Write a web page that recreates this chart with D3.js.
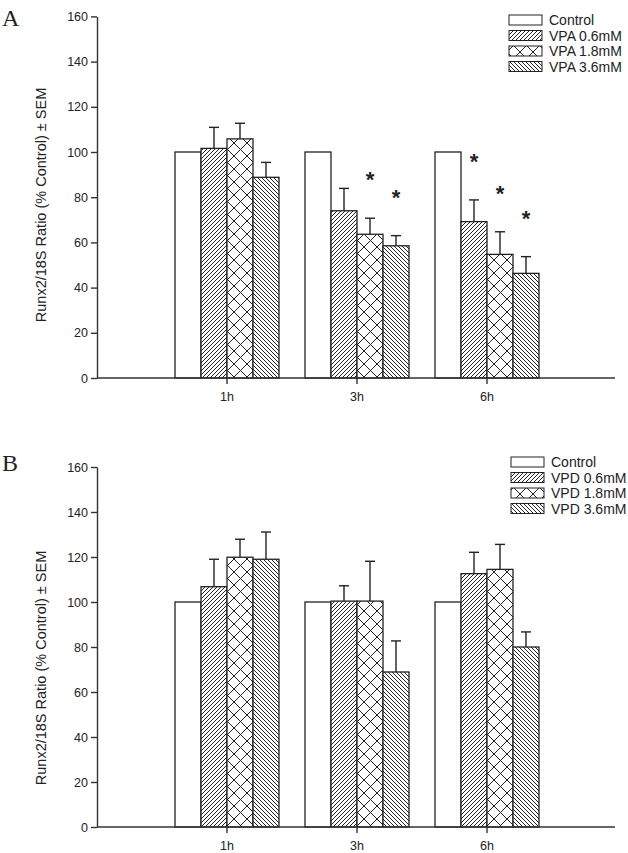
<!DOCTYPE html>
<html><head><meta charset="utf-8">
<script src="https://cdn.jsdelivr.net/npm/d3@7"></script>
<style>body{margin:0;background:#fff}svg{display:block}text{font-family:"Liberation Sans",Arial,sans-serif;fill:#222}</style>
</head><body>
<script>
const timepoints = ["1h","3h","6h"];
const yTicks = [0,20,40,60,80,100,120,140,160];
const yLabel = "Runx2/18S Ratio (% Control) \u00B1 SEM";

// Panel A (VPA)
const seriesA = ["Control","VPA 0.6mM","VPA 1.8mM","VPA 3.6mM"];
const meanA_ctrl = [100,100,100];
const meanA_06 = [101.6,74.0,69.2];
const meanA_18 = [105.8,63.6,54.7];
const meanA_36 = [88.8,58.5,46.3];
const semA_06 = [9.3,9.9,9.6];
const semA_18 = [6.9,7.1,10.0];
const semA_36 = [6.6,4.5,7.4];
const sigA_06 = [0,0,1];
const sigA_18 = [0,1,1];
const sigA_36 = [0,1,1];

// Panel B (VPD)
const seriesB = ["Control","VPD 0.6mM","VPD 1.8mM","VPD 3.6mM"];
const meanB_ctrl = [100,100,100];
const meanB_06 = [106.8,100.4,112.6];
const meanB_18 = [119.9,100.4,114.5];
const meanB_36 = [119.0,68.9,80.0];
const semB_06 = [12.2,6.8,9.5];
const semB_18 = [8.0,17.7,11.1];
const semB_36 = [12.1,13.8,6.7];

const W=628,H=853;
const svg=d3.select("body").append("svg").attr("width",W).attr("height",H);
const defs=svg.append("defs");
function pat(id,w,h,paths){
  const p=defs.append("pattern").attr("id",id).attr("patternUnits","userSpaceOnUse").attr("width",w).attr("height",h);
  p.append("rect").attr("width",w).attr("height",h).attr("fill","#fff");
  paths.forEach(d=>p.append("path").attr("d",d).attr("stroke","#222").attr("stroke-width",1).attr("fill","none"));
}
pat("fwd",4,4,["M-1,1 L1,-1","M0,4 L4,0","M3,5 L5,3"]);
pat("back",4,4,["M-1,3 L1,5","M0,0 L4,4","M3,-1 L5,1"]);
pat("cross",13,13,["M0,0 L13,13","M13,0 L0,13"]);
const fills=["#fff","url(#fwd)","url(#cross)","url(#back)"];

function panel(cfg){
  const g=svg.append("g");
  const y=d3.scaleLinear().domain([0,160]).range([cfg.y0,cfg.y160]);
  const x=d3.scaleBand().domain(timepoints).range([162,552]).padding(0);
  const x1=d3.scaleBand().domain(cfg.series).range([0,104]);
  const off=(x.bandwidth()-104)/2;
  // y axis
  const ya=g.append("g").attr("transform",`translate(97,0)`).call(d3.axisLeft(y).tickValues(yTicks).tickSize(6).tickPadding(3).tickSizeOuter(0));
  ya.selectAll("path,line").attr("stroke","#333").attr("stroke-width",1.4);
  ya.selectAll("text").style("font-size","12.5px").attr("fill","#222");
  // bars
  cfg.means.forEach((m,si)=>{
    timepoints.forEach((t,ti)=>{
      const bx=x(t)+off+x1(cfg.series[si]);
      g.append("rect").attr("x",bx).attr("y",y(m[ti])).attr("width",x1.bandwidth()).attr("height",y(0)-y(m[ti]))
        .attr("fill",fills[si]).attr("stroke","#222").attr("stroke-width",1.3);
      const s=cfg.sems[si];
      if(s){
        const cx=bx+x1.bandwidth()/2, top=y(m[ti]+s[ti]);
        g.append("line").attr("x1",cx).attr("x2",cx).attr("y1",y(m[ti])).attr("y2",top).attr("stroke","#222").attr("stroke-width",1.4);
        g.append("line").attr("x1",cx-5).attr("x2",cx+5).attr("y1",top).attr("y2",top).attr("stroke","#222").attr("stroke-width",1.4);
        const sig=cfg.sigs&&cfg.sigs[si];
        if(sig&&sig[ti]){
          g.append("text").attr("x",cx).attr("y",top-31).attr("text-anchor","middle").style("font-size","22px").style("font-weight","bold").text("*");
        }
      }
    });
  });
  // x axis
  g.append("line").attr("x1",97).attr("x2",615).attr("y1",y(0)).attr("y2",y(0)).attr("stroke","#333").attr("stroke-width",1.4);
  const xa=g.append("g").attr("transform",`translate(0,${y(0)})`).call(d3.axisBottom(x).tickSize(6).tickPadding(8));
  xa.select(".domain").remove();
  xa.selectAll("line").attr("stroke","#333").attr("stroke-width",1.4);
  xa.selectAll("text").style("font-size","12.5px").attr("fill","#222");
  // y label
  g.append("text").attr("transform",`translate(${46},${cfg.labelY}) rotate(-90)`).attr("text-anchor","middle").style("font-size","14.5px").text(yLabel);
  // panel letter
  g.append("text").attr("x",2).attr("y",cfg.letterY).style("font-family","'Liberation Serif','Times New Roman',serif").style("font-size","24px").attr("fill","#111").text(cfg.letter);
  // legend
  cfg.series.forEach((s,i)=>{
    const ly=cfg.legY+i*15.5;
    g.append("rect").attr("x",cfg.legX).attr("y",ly-5).attr("width",33).attr("height",10).attr("fill",fills[i]).attr("stroke","#222").attr("stroke-width",1);
    g.append("text").attr("x",cfg.legX+40).attr("y",ly+5).style("font-size","14px").text(s);
  });
}

panel({series:seriesA,means:[meanA_ctrl,meanA_06,meanA_18,meanA_36],sems:[null,semA_06,semA_18,semA_36],sigs:[null,sigA_06,sigA_18,sigA_36],
  y0:378,y160:16.4,labelY:205,letter:"A",letterY:26,legX:509,legY:20});
panel({series:seriesB,means:[meanB_ctrl,meanB_06,meanB_18,meanB_36],sems:[null,semB_06,semB_18,semB_36],sigs:null,
  y0:827,y160:467,labelY:668,letter:"B",letterY:471,legX:511,legY:462});
</script>
</body></html>
